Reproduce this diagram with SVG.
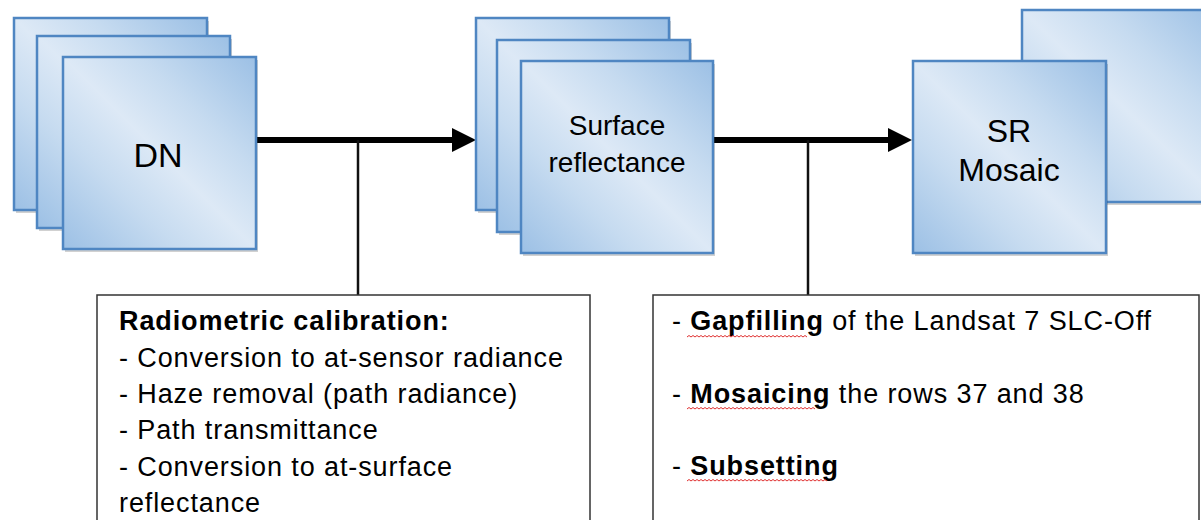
<svg xmlns="http://www.w3.org/2000/svg" width="1201" height="520" viewBox="0 0 1201 520">
<defs>
<linearGradient id="g" x1="1" y1="0" x2="0" y2="1">
<stop offset="0" stop-color="#9cc0e5"/>
<stop offset="0.3" stop-color="#c6dbf0"/>
<stop offset="0.5" stop-color="#dde9f6"/>
<stop offset="0.7" stop-color="#c6dbf0"/>
<stop offset="1" stop-color="#9cc0e5"/>
</linearGradient>
<marker id="ah" markerUnits="userSpaceOnUse" markerWidth="24" markerHeight="24" refX="8" refY="12" orient="auto">
<path d="M0,0 L24,12 L0,24 Z" fill="#000"/>
</marker>
</defs>
<style>
.sh{fill:#000;opacity:0.18}
.bx{fill:url(#g);stroke:#4f86c2;stroke-width:2.5}
.lbl{font-family:"Liberation Sans",Arial,sans-serif;fill:#000;text-anchor:middle}
.tb{fill:#fff;stroke:#333;stroke-width:1.5}
.tx{font-family:"Liberation Sans",Arial,sans-serif;font-size:27px;fill:#000;letter-spacing:0.9px}
.b{font-weight:bold}
.conn{stroke:#000;stroke-width:6;fill:none}
.vl{stroke:#111;stroke-width:2.5;fill:none}
.wv{stroke:#e03030;stroke-width:1;fill:none}
</style>

<g id="connectors">
<line class="conn" x1="256" y1="140" x2="460" y2="140" marker-end="url(#ah)"/>
<line class="vl" x1="358" y1="140" x2="358" y2="295"/>
<line class="conn" x1="712" y1="140" x2="896" y2="140" marker-end="url(#ah)"/>
<line class="vl" x1="808" y1="140" x2="808" y2="295"/>
</g>

<g id="dn">
<rect class="sh" x="16" y="21" width="193" height="192"/>
<rect class="bx" x="14" y="18" width="193" height="192"/>
<rect class="sh" x="39" y="39" width="193" height="192"/>
<rect class="bx" x="37" y="36" width="193" height="192"/>
<rect class="sh" x="65" y="60" width="193" height="192"/>
<rect class="bx" x="63" y="57" width="193" height="192"/>
<text class="lbl" x="158" y="167" font-size="34">DN</text>
</g>

<g id="surface-reflectance">
<rect class="sh" x="478" y="21" width="193" height="192"/>
<rect class="bx" x="476" y="18" width="193" height="192"/>
<rect class="sh" x="499" y="43" width="193" height="192"/>
<rect class="bx" x="497" y="40" width="193" height="192"/>
<rect class="sh" x="523" y="64" width="192" height="192"/>
<rect class="bx" x="521" y="61" width="192" height="192"/>
<text class="lbl" x="617" y="135" font-size="28">Surface</text>
<text class="lbl" x="617" y="172" font-size="28">reflectance</text>
</g>

<g id="sr-mosaic">
<rect class="sh" x="1024" y="13" width="200" height="192"/>
<rect class="bx" x="1022" y="10" width="200" height="192"/>
<rect class="sh" x="915" y="64" width="193" height="192"/>
<rect class="bx" x="913" y="61" width="193" height="192"/>
<text class="lbl" x="1009" y="142" font-size="32">SR</text>
<text class="lbl" x="1009" y="181" font-size="32">Mosaic</text>
</g>

<g id="radiometric-box">
<rect class="tb" x="97" y="295" width="493" height="240"/>
<text class="tx b" x="119" y="330">Radiometric calibration:</text>
<text class="tx" x="119" y="367">- Conversion to at-sensor radiance</text>
<text class="tx" x="119" y="403">- Haze removal (path radiance)</text>
<text class="tx" x="119" y="439">- Path transmittance</text>
<text class="tx" x="119" y="476">- Conversion to at-surface</text>
<text class="tx" x="119" y="512">reflectance</text>
</g>

<g id="mosaic-box">
<rect class="tb" x="653" y="295" width="546" height="240"/>
<text class="tx" x="672" y="330">- <tspan class="b">Gapfilling</tspan> of the Landsat 7 SLC-Off</text>
<text class="tx" x="672" y="403">- <tspan class="b">Mosaicing</tspan> the rows 37 and 38</text>
<text class="tx" x="672" y="475">- <tspan class="b">Subsetting</tspan></text>
<path class="wv" d="M687 337 l2-1.5 2 1.5 2-1.5 2 1.5 2-1.5 2 1.5 2-1.5 2 1.5 2-1.5 2 1.5 2-1.5 2 1.5 2-1.5 2 1.5 2-1.5 2 1.5 2-1.5 2 1.5 2-1.5 2 1.5 2-1.5 2 1.5 2-1.5 2 1.5 2-1.5 2 1.5 2-1.5 2 1.5 2-1.5 2 1.5 2-1.5 2 1.5 2-1.5 2 1.5 2-1.5 2 1.5 2-1.5 2 1.5 2-1.5 2 1.5 2-1.5 2 1.5 2-1.5 2 1.5 2-1.5 2 1.5 2-1.5 2 1.5 2-1.5 2 1.5 2-1.5 2 1.5 2-1.5 2 1.5 2-1.5 2 1.5 2-1.5 2 1.5 2-1.5 2 1.5"/>
<path class="wv" d="M687 409 l2-1.5 2 1.5 2-1.5 2 1.5 2-1.5 2 1.5 2-1.5 2 1.5 2-1.5 2 1.5 2-1.5 2 1.5 2-1.5 2 1.5 2-1.5 2 1.5 2-1.5 2 1.5 2-1.5 2 1.5 2-1.5 2 1.5 2-1.5 2 1.5 2-1.5 2 1.5 2-1.5 2 1.5 2-1.5 2 1.5 2-1.5 2 1.5 2-1.5 2 1.5 2-1.5 2 1.5 2-1.5 2 1.5 2-1.5 2 1.5 2-1.5 2 1.5 2-1.5 2 1.5 2-1.5 2 1.5 2-1.5 2 1.5 2-1.5 2 1.5 2-1.5 2 1.5 2-1.5 2 1.5 2-1.5 2 1.5 2-1.5 2 1.5 2-1.5 2 1.5 2-1.5 2 1.5 2-1.5 2 1.5"/>
<path class="wv" d="M687 481 l2-1.5 2 1.5 2-1.5 2 1.5 2-1.5 2 1.5 2-1.5 2 1.5 2-1.5 2 1.5 2-1.5 2 1.5 2-1.5 2 1.5 2-1.5 2 1.5 2-1.5 2 1.5 2-1.5 2 1.5 2-1.5 2 1.5 2-1.5 2 1.5 2-1.5 2 1.5 2-1.5 2 1.5 2-1.5 2 1.5 2-1.5 2 1.5 2-1.5 2 1.5 2-1.5 2 1.5 2-1.5 2 1.5 2-1.5 2 1.5 2-1.5 2 1.5 2-1.5 2 1.5 2-1.5 2 1.5 2-1.5 2 1.5 2-1.5 2 1.5 2-1.5 2 1.5 2-1.5 2 1.5 2-1.5 2 1.5 2-1.5 2 1.5 2-1.5 2 1.5 2-1.5 2 1.5 2-1.5 2 1.5 2-1.5 2 1.5 2-1.5 2 1.5 2-1.5 2 1.5"/>
</g>
</svg>
